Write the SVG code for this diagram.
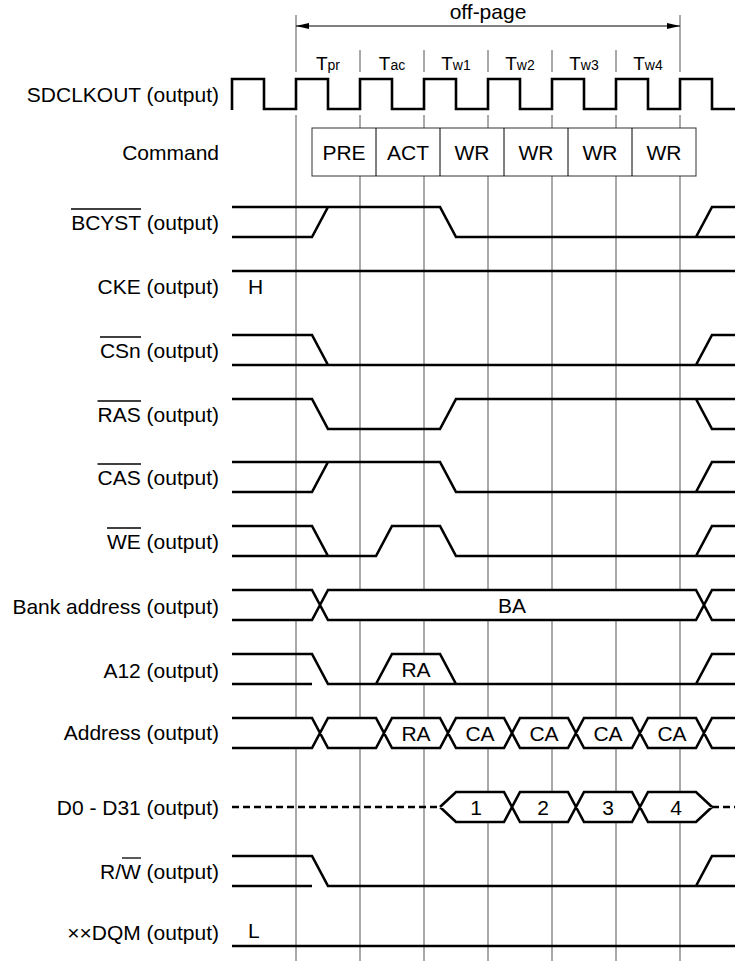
<svg xmlns="http://www.w3.org/2000/svg" width="735" height="961" viewBox="0 0 735 961">
<defs>
<style>
text{font-family:"Liberation Sans",Arial,sans-serif;fill:#000}
.lbl{font-size:21px;text-anchor:end}
.in{font-size:21px;text-anchor:middle}
.grid{stroke:#555;stroke-width:1;fill:none}
.w{stroke:#000;stroke-width:2.6;fill:none;stroke-linejoin:miter}
.bg{fill:#fff;stroke:none}
.ob{stroke:#000;stroke-width:1.3}
.thin{stroke:#000;stroke-width:1;fill:none}
</style>
</defs>
<rect width="735" height="961" fill="#fff"/>

<g id="grid">
<path class="grid" d="M296,15 V72 M680,15 V72 M360,50 V72 M424,50 V72 M488,50 V72 M552,50 V72 M616,50 V72"/>
<path class="grid" d="M296,115 V961 M360,115 V961 M424,115 V961 M488,115 V961 M552,115 V961 M616,115 V961 M680,115 V961"/>
</g>

<g id="connectors">
<line class="thin" x1="296" y1="26" x2="680" y2="26"/>
<path d="M296,26 L309,23 L309,29 Z" fill="#000"/>
<path d="M680,26 L667,23 L667,29 Z" fill="#000"/>
</g>

<g id="offpage">
<text x="488" y="19" class="in">off-page</text>
</g>

<g id="periods">
<text x="328" y="70" text-anchor="middle"><tspan font-size="19">T</tspan><tspan font-size="14">pr</tspan></text>
<text x="392" y="70" text-anchor="middle"><tspan font-size="19">T</tspan><tspan font-size="14">ac</tspan></text>
<text x="456" y="70" text-anchor="middle"><tspan font-size="19">T</tspan><tspan font-size="14">w1</tspan></text>
<text x="520" y="70" text-anchor="middle"><tspan font-size="19">T</tspan><tspan font-size="14">w2</tspan></text>
<text x="584" y="70" text-anchor="middle"><tspan font-size="19">T</tspan><tspan font-size="14">w3</tspan></text>
<text x="648" y="70" text-anchor="middle"><tspan font-size="19">T</tspan><tspan font-size="14">w4</tspan></text>
</g>

<g id="sdclkout">
<text x="219" y="102" class="lbl">SDCLKOUT (output)</text>
<path class="w" d="M232,110 V79 H264 V109 H296 V79 H328 V109 H360 V79 H392 V109 H424 V79 H456 V109 H488 V79 H520 V109 H552 V79 H584 V109 H616 V79 H648 V109 H680 V79 H712 V109 H735"/>
</g>

<g id="command">
<text x="219" y="160" class="lbl">Command</text>
<rect x="312" y="128" width="384" height="48" fill="#fff" stroke="#333" stroke-width="1"/>
<path class="thin" stroke="#333" d="M376,128 V176 M440,128 V176 M504,128 V176 M568,128 V176 M632,128 V176"/>
<text x="344" y="160" class="in">PRE</text>
<text x="408" y="160" class="in">ACT</text>
<text x="472" y="160" class="in">WR</text>
<text x="536" y="160" class="in">WR</text>
<text x="600" y="160" class="in">WR</text>
<text x="664" y="160" class="in">WR</text>
</g>

<g id="bcyst">
<text x="219" y="230" class="lbl">BCYST (output)</text>
<line class="ob" x1="71" y1="209" x2="141" y2="209"/>
<path class="w" d="M232,207 H440 L456,237 H735 M232,237 H312 L328,207 M696,237 L712,207 H735"/>
</g>

<g id="cke">
<text x="219" y="294" class="lbl">CKE (output)</text>
<path class="w" d="M232,271 H735"/>
<text x="248" y="294" font-size="21">H</text>
</g>

<g id="csn">
<text x="219" y="358" class="lbl">CSn (output)</text>
<line class="ob" x1="100" y1="337" x2="141" y2="337"/>
<path class="w" d="M232,365 H735 M232,335 H312 L328,365 M696,365 L712,335 H735"/>
</g>

<g id="ras">
<text x="219" y="422" class="lbl">RAS (output)</text>
<line class="ob" x1="97.5" y1="401" x2="141" y2="401"/>
<path class="w" d="M232,399 H312 L328,429 H440 L456,399 H735 M696,399 L712,429 H735"/>
</g>

<g id="cas">
<text x="219" y="485" class="lbl">CAS (output)</text>
<line class="ob" x1="97.5" y1="464" x2="141" y2="464"/>
<path class="w" d="M232,462 H440 L456,492 H735 M232,492 H312 L328,462 M696,492 L712,462 H735"/>
</g>

<g id="we">
<text x="219" y="549" class="lbl">WE (output)</text>
<line class="ob" x1="107" y1="528" x2="141" y2="528"/>
<path class="w" d="M232,526 H312 L328,556 H376 L392,526 H440 L456,556 H735 M232,556 H328 M696,556 L712,526 H735"/>
</g>

<g id="bank-address">
<text x="219" y="614" class="lbl">Bank address (output)</text>
<rect class="bg" x="232" y="590" width="503" height="30"/>
<path class="w" d="M232,590 H312 L328,620 H696 L712,590 H735 M232,620 H312 L328,590 H696 L712,620 H735"/>
<text x="512" y="613" class="in">BA</text>
</g>

<g id="a12">
<text x="219" y="678" class="lbl">A12 (output)</text>
<polygon class="bg" points="376,684 392,654 440,654 456,684"/>
<path class="w" d="M232,654 H312 L328,684 H735 M232,684 H312 M376,684 L392,654 H440 L456,684 M696,684 L712,654 H735"/>
<text x="416" y="677" class="in">RA</text>
</g>

<g id="address">
<text x="219" y="740" class="lbl">Address (output)</text>
<rect class="bg" x="232" y="718" width="503" height="30"/>
<path class="w" d="M232,718 H312 L328,748 H376 L392,718 H440 L456,748 H504 L520,718 H568 L584,748 H632 L648,718 H696 L712,748 H735 M232,748 H312 L328,718 H376 L392,748 H440 L456,718 H504 L520,748 H568 L584,718 H632 L648,748 H696 L712,718 H735"/>
<text x="416" y="741" class="in">RA</text>
<text x="480" y="741" class="in">CA</text>
<text x="544" y="741" class="in">CA</text>
<text x="608" y="741" class="in">CA</text>
<text x="672" y="741" class="in">CA</text>
</g>

<g id="data">
<text x="219" y="815" class="lbl">D0 - D31 (output)</text>
<path class="w" stroke-dasharray="7 4" d="M232,807 H440 M712,807 H735"/>
<polygon class="bg" points="440,807 456,792 696,792 712,807 696,822 456,822"/>
<path class="w" d="M440,807 L456,792 H504 L520,822 H568 L584,792 H632 L648,822 H696 L712,807 M440,807 L456,822 H504 L520,792 H568 L584,822 H632 L648,792 H696 L712,807"/>
<text x="476" y="815" class="in">1</text>
<text x="543" y="815" class="in">2</text>
<text x="608" y="815" class="in">3</text>
<text x="676" y="815" class="in">4</text>
</g>

<g id="rw">
<text x="219" y="879" class="lbl">R/W (output)</text>
<line class="ob" x1="122" y1="858" x2="141" y2="858"/>
<path class="w" d="M232,856 H312 L328,886 H735 M232,886 H312 M696,886 L712,856 H735"/>
</g>

<g id="dqm">
<text x="219" y="940" class="lbl">××DQM (output)</text>
<path class="w" d="M232,946 H735"/>
<text x="248" y="938" font-size="21">L</text>
</g>
</svg>
